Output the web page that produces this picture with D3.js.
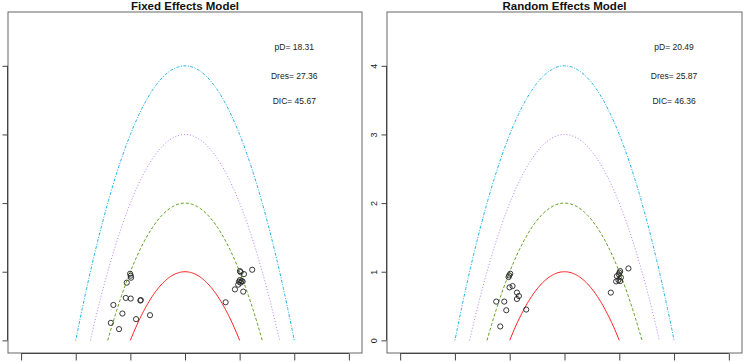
<!DOCTYPE html>
<html>
<head>
<meta charset="utf-8">
<script src="https://cdn.jsdelivr.net/npm/d3@7"></script>
<style>
  body { margin: 0; background: #fff; }
  svg { display: block; font-family: "Liberation Sans", Arial, sans-serif; }
</style>
</head>
<body>
<svg id="chart" width="744" height="362"></svg>
<script>
// model titles and fit statistics
var TITLES = ["Fixed Effects Model", "Random Effects Model"];
var PD = [18.31, 20.49];
var DRES = [27.36, 25.87];
var DIC = [45.67, 46.36];

// leverage points: w (signed sqrt of residual deviance) and leverage
var FE_W = [-1.005, -0.993, -0.987, -1.066, -1.084, -0.993, -0.817, -0.810, -1.311, -1.146, -0.640, -0.896, -1.358, -1.207,
            1.005, 1.018, 1.079, 1.230, 1.005, 1.037, 0.987, 1.055, 1.018, 0.974, 0.914, 1.066, 0.744];
var FE_LEV = [0.971, 0.942, 0.913, 0.841, 0.618, 0.609, 0.580, 0.588, 0.516, 0.391, 0.367, 0.309, 0.255, 0.164,
              1.009, 0.994, 0.965, 1.029, 0.878, 0.864, 0.855, 0.859, 0.841, 0.812, 0.743, 0.710, 0.555];
var RE_W = [-0.990, -1.009, -1.021, -0.948, -1.003, -0.868, -0.832, -0.868, -1.246, -1.100, -1.063, -0.699, -1.173,
            1.016, 1.003, 0.992, 1.167, 0.956, 1.029, 0.985, 0.943, 1.016, 0.846];
var RE_LEV = [0.971, 0.946, 0.922, 0.791, 0.772, 0.696, 0.646, 0.603, 0.565, 0.565, 0.439, 0.449, 0.203,
              1.009, 0.986, 0.961, 1.048, 0.936, 0.917, 0.878, 0.859, 0.864, 0.696];

// reference parabolas  leverage = c - w^2
var CURVE_C = [1, 2, 3, 4];
var CURVE_COL = ["#ff2020", "#5e9e18", "#ab82ff", "#22b4ea"];
var CURVE_DASH = [null, "3,2", "1,2", "1,1.5,3,1.5"];

var X_TICKS = [-3, -2, -1, 0, 1, 2, 3];
var Y_TICKS = [0, 1, 2, 3, 4];
var STAT_Y = [4.28, 3.85, 3.49];

var svg = d3.select("#chart");

// the left panel's y labels and all x labels fall outside the picture
var PANELS = [
    {left: 8, right: 362, w: FE_W, lev: FE_LEV, ylabels: false},
    {left: 387, right: 742, w: RE_W, lev: RE_LEV, ylabels: true}
];
var TOP = 12, BOTTOM = 353;

function drawPanel(p, i) {
    var x = d3.scaleLinear().domain([-3.24, 3.24]).range([p.left, p.right]);
    var y = d3.scaleLinear().domain([-0.184, 4.784]).range([BOTTOM, TOP]);
    var g = svg.append("g");

    // parabolas
    var line = d3.line().x(function(d) { return x(d[0]); }).y(function(d) { return y(d[1]); });
    CURVE_C.forEach(function(c, k) {
        var r = Math.sqrt(c);
        var pts = d3.range(0, 101).map(function(j) {
            var xv = -r + 2 * r * j / 100;
            return [xv, c - xv * xv];
        });
        g.append("path")
            .attr("d", line(pts))
            .attr("fill", "none")
            .attr("stroke", CURVE_COL[k])
            .attr("stroke-width", 1)
            .attr("stroke-dasharray", CURVE_DASH[k]);
    });

    // points
    g.selectAll("circle")
        .data(p.w)
        .enter()
        .append("circle")
        .attr("cx", function(d) { return x(d); })
        .attr("cy", function(d, j) { return y(p.lev[j]); })
        .attr("r", 2.6)
        .attr("fill", "none")
        .attr("stroke", "#222")
        .attr("stroke-width", 0.9);

    // stats text
    var stats = ["pD= " + PD[i], "Dres= " + DRES[i], "DIC= " + DIC[i]];
    g.selectAll("text.stat")
        .data(stats)
        .enter()
        .append("text")
        .attr("class", "stat")
        .attr("x", x(2))
        .attr("y", function(d, j) { return y(STAT_Y[j]); })
        .attr("dy", "0.35em")
        .attr("text-anchor", "middle")
        .attr("font-size", "8.5px")
        .attr("fill", "#222")
        .text(function(d) { return d; });

    // box
    g.append("rect")
        .attr("x", p.left).attr("y", TOP)
        .attr("width", p.right - p.left).attr("height", BOTTOM - TOP)
        .attr("fill", "none")
        .attr("stroke", "#666")
        .attr("stroke-width", 1);

    // axes, R style: ticks only from first to last
    var xa = g.append("g").attr("transform", "translate(0," + (BOTTOM + 0.5) + ")")
        .call(d3.axisBottom(x).tickValues(X_TICKS).tickSize(7).tickFormat(""));
    var ya = g.append("g").attr("transform", "translate(" + (p.left - 0.5) + ",0)")
        .call(d3.axisLeft(y).tickValues(Y_TICKS).tickSize(5).tickPadding(5)
            .tickFormat(p.ylabels ? d3.format("d") : ""));
    [xa, ya].forEach(function(a) {
        a.select(".domain")
            .attr("stroke", "#444");
        a.selectAll(".tick line").attr("stroke", "#444");
        a.selectAll("text").attr("font-size", "9px").attr("fill", "#222")
            .attr("font-family", "Liberation Sans, Arial, sans-serif");
    });
    xa.select(".domain").attr("d", "M" + x(-3) + ",0H" + x(3));
    ya.select(".domain").attr("d", "M0," + y(0) + "V" + y(4));
    ya.selectAll(".tick text")
        .attr("transform", "rotate(-90)")
        .attr("x", 0).attr("y", -10)
        .attr("dy", "0")
        .attr("text-anchor", "middle");

    // title
    svg.append("text")
        .attr("x", (p.left + p.right) / 2)
        .attr("y", 10)
        .attr("text-anchor", "middle")
        .attr("font-size", "11.5px")
        .attr("font-weight", "bold")
        .attr("fill", "#111")
        .text(TITLES[i]);
}

PANELS.forEach(drawPanel);
</script>
</body>
</html>
